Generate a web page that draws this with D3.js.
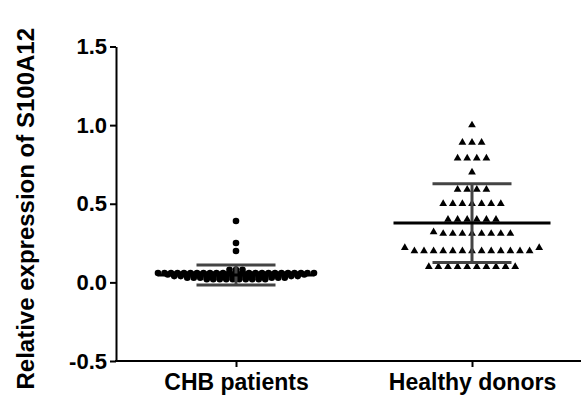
<!DOCTYPE html>
<html>
<head>
<meta charset="utf-8">
<script src="https://cdn.jsdelivr.net/npm/d3@7"></script>
<style>
  html, body { margin: 0; padding: 0; background: #fff; }
  svg { display: block; }
  text { font-family: "Liberation Sans", Arial, sans-serif; font-weight: bold; }
</style>
</head>
<body>
<svg id="chart" width="581" height="401"></svg>
<script>
// ---- data ----
const categories = ["CHB patients", "Healthy donors"];

const chbValues = [
  0.39, 0.25, 0.20,
  0.08, 0.08, 0.08,
  ...Array(25).fill(0.06),
  ...Array(22).fill(0.05),
  ...Array(20).fill(0.04),
  ...Array(16).fill(0.03),
  ...Array(10).fill(0.02)
];

const healthyValues = [
  1.00,
  0.89, 0.89, 0.89,
  0.79, 0.79, 0.79, 0.79,
  0.70,
  0.59, 0.59, 0.59, 0.59,
  0.50, 0.50, 0.50, 0.50, 0.50, 0.50, 0.50,
  0.40, 0.40, 0.40, 0.40, 0.40, 0.40,
  0.31, 0.31, 0.31, 0.31, 0.31, 0.31, 0.31, 0.31, 0.32,
  0.20, 0.20, 0.20, 0.20, 0.20, 0.20, 0.20, 0.20, 0.20, 0.20, 0.20, 0.20, 0.20, 0.22, 0.22,
  0.10, 0.10, 0.10, 0.10, 0.10, 0.10, 0.10, 0.10, 0.10, 0.10
];

const groupMeans = [0.047, 0.377];
const groupSDs = [0.063, 0.250];

const yTicks = [-0.5, 0.0, 0.5, 1.0, 1.5];
const yTitle = "Relative expression of S100A12";

// ---- layout ----
const svg = d3.select("#chart");
const W = 581, H = 401;
const axisX = 116, axisBottomY = 361, axisTopY = 46.5;

const y = d3.scaleLinear().domain([-0.5, 1.5]).range([axisBottomY, axisTopY]);
const x = d3.scalePoint().domain(categories).range([236, 472]);

// y axis
const fmt = d => d.toFixed(1);
const yAxis = d3.axisLeft(y).tickValues(yTicks).tickFormat(fmt)
  .tickSize(6).tickSizeOuter(0).tickPadding(3);
const gy = svg.append("g").attr("transform", `translate(${axisX},0)`).call(yAxis);
gy.select(".domain").attr("stroke", "#000").attr("stroke-width", 2);
gy.selectAll(".tick line").attr("stroke", "#000").attr("stroke-width", 2);
gy.selectAll(".tick text").attr("font-size", 22).attr("fill", "#000")
  .attr("font-family", "'Liberation Sans', Arial, sans-serif").attr("font-weight", "bold");

// x axis
const xAxis = d3.axisBottom(x).tickSize(6).tickSizeOuter(0).tickPadding(7);
const gx = svg.append("g").attr("transform", `translate(0,${axisBottomY})`).call(xAxis);
gx.select(".domain").remove();
gx.append("line").attr("x1", axisX - 1).attr("x2", W).attr("y1", 0).attr("y2", 0)
  .attr("stroke", "#000").attr("stroke-width", 2);
gx.selectAll(".tick line").attr("stroke", "#000").attr("stroke-width", 2);
gx.selectAll(".tick text").attr("font-size", 23).attr("fill", "#000")
  .attr("font-family", "'Liberation Sans', Arial, sans-serif").attr("font-weight", "bold");

// y title
svg.append("text")
  .attr("transform", `translate(34,${(axisTopY + axisBottomY) / 2 + 5}) rotate(-90)`)
  .attr("text-anchor", "middle")
  .attr("font-size", 24)
  .attr("fill", "#000")
  .text(yTitle);

// ---- scatter layout: rows of equal (binned) values, placed from center outward ----
function layout(values, binWidth, spacing) {
  const bins = d3.group(values.map((v, i) => ({ v, i })), d => Math.round(d.v / binWidth));
  const out = [];
  for (const [, arr] of bins) {
    const sorted = arr.slice().sort((a, b) => a.v - b.v);
    const n = sorted.length;
    const slots = [];
    if (n % 2 === 1) {
      slots.push(0);
      for (let k = 1; slots.length < n; k++) { slots.push(k); if (slots.length < n) slots.push(-k); }
    } else {
      for (let k = 0; slots.length < n; k++) { slots.push(-(k + 0.5)); slots.push(k + 0.5); }
    }
    sorted.forEach((d, j) => out.push({ v: d.v, dx: slots[j] * spacing }));
  }
  return out;
}

const chbPts = layout(chbValues, 0.01, 6.5);
const hdPts = layout(healthyValues, 0.1, 9.6);

// CHB: circles
svg.append("g").selectAll("circle").data(chbPts).join("circle")
  .attr("cx", d => x(categories[0]) + d.dx)
  .attr("cy", d => y(d.v))
  .attr("r", 3.3)
  .attr("fill", "#000");

// Healthy: triangles
const tri = d3.symbol().type(d3.symbolTriangle).size(26);
svg.append("g").selectAll("path").data(hdPts).join("path")
  .attr("d", tri)
  .attr("transform", d => `translate(${x(categories[1]) + d.dx},${y(d.v)})`)
  .attr("fill", "#000");

// mean & SD
const sdColor = "#444";
categories.forEach((c, i) => {
  const cx = x(c), m = groupMeans[i], s = groupSDs[i];
  const g = svg.append("g");
  g.append("line").attr("x1", cx).attr("x2", cx).attr("y1", y(m + s)).attr("y2", y(m - s))
    .attr("stroke", sdColor).attr("stroke-width", 3);
  [m + s, m - s].forEach(v => {
    g.append("line").attr("x1", cx - 39.5).attr("x2", cx + 39.5).attr("y1", y(v)).attr("y2", y(v))
      .attr("stroke", sdColor).attr("stroke-width", 3);
  });
  g.append("line").attr("x1", cx - 78.5).attr("x2", cx + 78.5).attr("y1", y(m)).attr("y2", y(m))
    .attr("stroke", "#000").attr("stroke-width", 3);
});
</script>
</body>
</html>
